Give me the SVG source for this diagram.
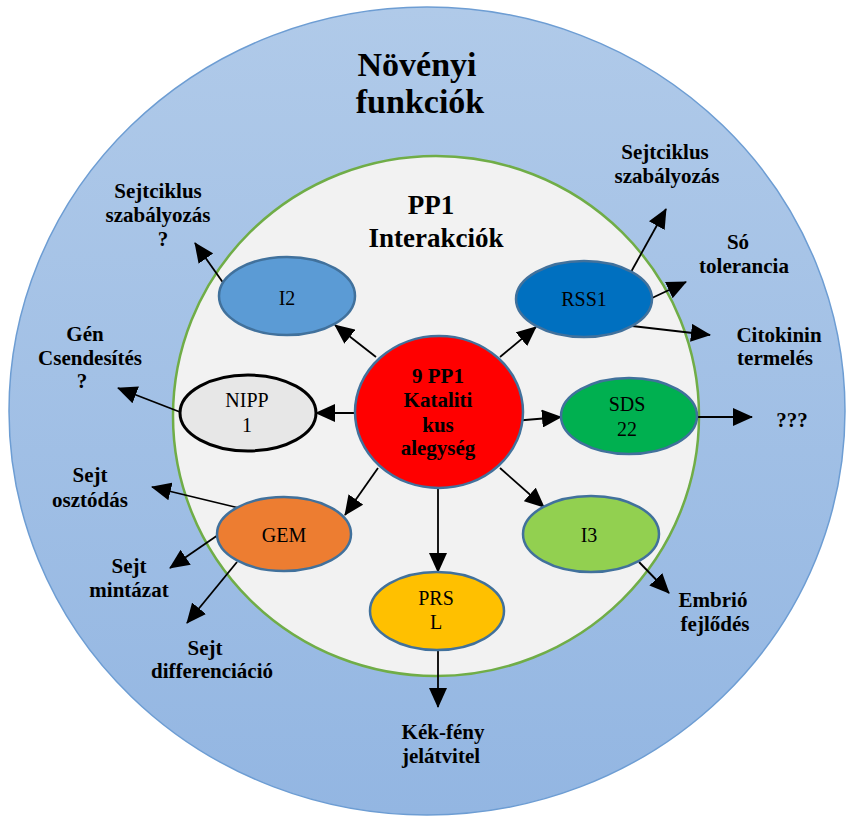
<svg xmlns="http://www.w3.org/2000/svg" width="853" height="818" viewBox="0 0 853 818" font-family="'Liberation Serif', 'DejaVu Serif', serif">
<defs>
<linearGradient id="bg" x1="0" y1="0" x2="0" y2="1">
<stop offset="0" stop-color="#b0cae9"/>
<stop offset="1" stop-color="#93b6e2"/>
</linearGradient>
<marker id="ah" markerWidth="20" markerHeight="18" refX="19" refY="9" orient="auto" markerUnits="userSpaceOnUse">
<path d="M0,0 L20,9 L0,18 z" fill="#000"/>
</marker>
</defs>
<style>
text{font-family:'Liberation Serif','DejaVu Serif',serif}
.t{text-anchor:middle;fill:#000}
.b{font-weight:bold;font-size:21px}
.n{font-size:20px}
.node{stroke:#41719c;stroke-width:2.5}
.c line{stroke:#000;stroke-width:1.8;marker-end:url(#ah)}
</style>
<rect width="853" height="818" fill="#fff"/>
<g id="outer">
<ellipse cx="427" cy="411" rx="418" ry="404" fill="url(#bg)" stroke="#6d9dd3" stroke-width="1.5"/>
<text class="t" font-weight="bold" font-size="34" x="417" y="76">Növényi</text>
<text class="t" font-weight="bold" font-size="34" x="420" y="113">funkciók</text>
</g>
<g id="inner">
<ellipse cx="436" cy="416" rx="263" ry="260" fill="#f2f2f2" stroke="#70ad47" stroke-width="2.5"/>
<text class="t" font-weight="bold" font-size="27" x="431" y="214">PP1</text>
<text class="t" font-weight="bold" font-size="27" x="436" y="247">Interakciók</text>
</g>
<g class="c" id="connectors">
<line x1="376" y1="357" x2="335" y2="325"/>
<line x1="500" y1="357" x2="536" y2="327"/>
<line x1="355" y1="413" x2="316" y2="413"/>
<line x1="513" y1="421" x2="561" y2="417"/>
<line x1="378" y1="468" x2="345" y2="515"/>
<line x1="500" y1="468" x2="544" y2="507"/>
<line x1="438" y1="488" x2="438" y2="572"/>
<line x1="224" y1="284" x2="195" y2="243"/>
<line x1="631" y1="272" x2="666" y2="209"/>
<line x1="652" y1="298" x2="686" y2="282"/>
<line x1="632" y1="326" x2="710" y2="335"/>
<line x1="180" y1="412" x2="118" y2="388"/>
<line x1="697" y1="417" x2="752" y2="417"/>
<line x1="239" y1="508" x2="152" y2="487"/>
<line x1="218" y1="535" x2="170" y2="568"/>
<line x1="237" y1="562" x2="187" y2="623"/>
<line x1="639" y1="562" x2="669" y2="593"/>
<line x1="438" y1="650" x2="438" y2="707"/>
</g>
<g id="center">
<ellipse class="node" cx="439" cy="412" rx="84" ry="76" fill="#ff0000"/>
<text class="t b" x="438" y="383">9 PP1</text>
<text class="t b" x="438" y="407">Kataliti</text>
<text class="t b" x="438" y="432">kus</text>
<text class="t b" x="438" y="455">alegység</text>
</g>
<g id="I2">
<ellipse class="node" cx="287" cy="296" rx="68" ry="39" fill="#5b9bd5"/>
<text class="t n" x="287" y="305">I2</text>
</g>
<g id="NIPP1">
<ellipse cx="248" cy="413" rx="68" ry="38" fill="#e7e7e7" stroke="#000" stroke-width="3"/>
<text class="t n" x="247" y="407">NIPP</text>
<text class="t n" x="247" y="432">1</text>
</g>
<g id="RSS1">
<ellipse class="node" cx="584" cy="299" rx="68" ry="38" fill="#0070c0"/>
<text class="t n" x="584" y="306">RSS1</text>
</g>
<g id="SDS22">
<ellipse class="node" cx="629" cy="416" rx="68" ry="38" fill="#00b050"/>
<text class="t n" x="627" y="411">SDS</text>
<text class="t n" x="627" y="436">22</text>
</g>
<g id="GEM">
<ellipse class="node" cx="284" cy="534" rx="67" ry="37" fill="#ed7d31"/>
<text class="t n" x="284" y="542">GEM</text>
</g>
<g id="I3">
<ellipse class="node" cx="591" cy="534" rx="68" ry="38" fill="#92d050"/>
<text class="t n" x="589" y="542">I3</text>
</g>
<g id="PRSL">
<ellipse class="node" cx="437" cy="611" rx="67" ry="39" fill="#ffc000"/>
<text class="t n" x="436" y="605">PRS</text>
<text class="t n" x="436" y="629">L</text>
</g>
<g id="labels">
<text class="t b" x="158" y="198">Sejtciklus</text>
<text class="t b" x="158" y="222">szabályozás</text>
<text class="t b" x="163" y="246">?</text>
<text class="t b" x="665" y="159">Sejtciklus</text>
<text class="t b" x="667" y="183">szabályozás</text>
<text class="t b" x="738" y="249">Só</text>
<text class="t b" x="744" y="273">tolerancia</text>
<text class="t b" x="779" y="342">Citokinin</text>
<text class="t b" x="775" y="365">termelés</text>
<text class="t b" x="85" y="341">Gén</text>
<text class="t b" x="90" y="365">Csendesítés</text>
<text class="t b" x="82" y="388">?</text>
<text class="t b" x="792" y="427">???</text>
<text class="t b" x="90" y="482">Sejt</text>
<text class="t b" x="90" y="507">osztódás</text>
<text class="t b" x="129" y="573">Sejt</text>
<text class="t b" x="129" y="597">mintázat</text>
<text class="t b" x="205" y="655">Sejt</text>
<text class="t b" x="212" y="678">differenciáció</text>
<text class="t b" x="713" y="607">Embrió</text>
<text class="t b" x="715" y="631">fejlődés</text>
<text class="t b" x="443" y="739">Kék-fény</text>
<text class="t b" x="441" y="763">jelátvitel</text>
</g>
</svg>
